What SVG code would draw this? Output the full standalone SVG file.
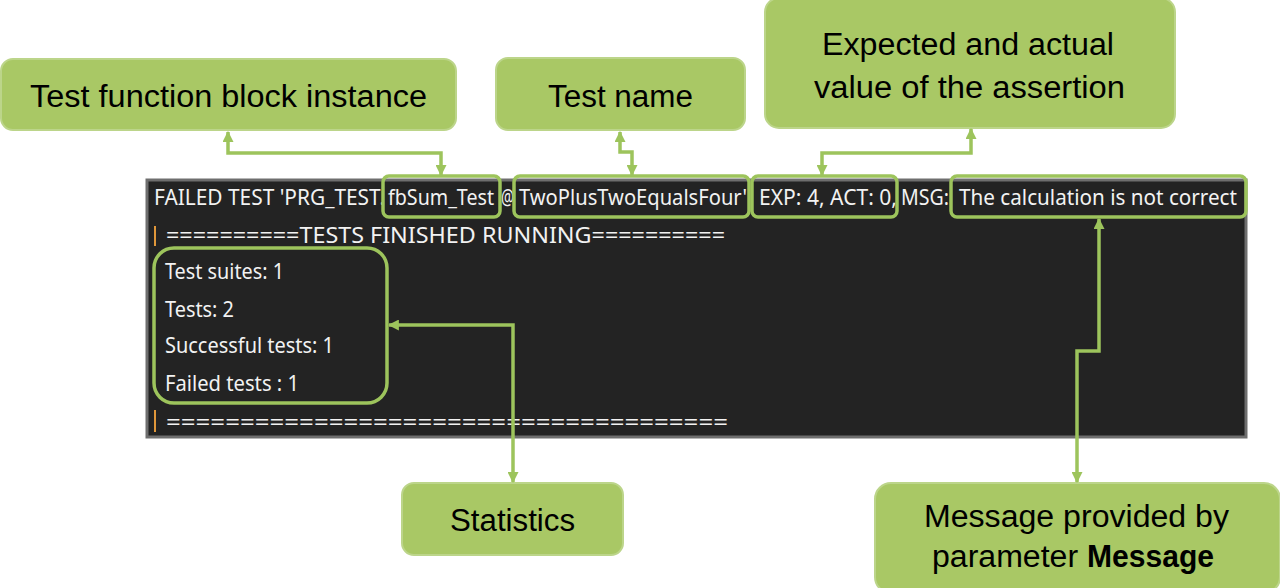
<svg xmlns="http://www.w3.org/2000/svg" width="1280" height="588" viewBox="0 0 1280 588">
<style>
.callout{fill:#a9c865;stroke:#bcd58a;stroke-width:2}
.ct{font-family:"Liberation Sans",Arial,sans-serif;font-size:31px;fill:#000;text-anchor:start}
.term{font-family:"Noto Sans","Liberation Sans",sans-serif;font-size:21px;fill:#f2f2f2}
.hl{fill:none;stroke:#9dc45c;stroke-width:3.5}
.conn{fill:none;stroke:#9dc45c;stroke-width:3.5;marker-start:url(#ah);marker-end:url(#ah)}
.bar{fill:#e0973a}
</style>
<defs>
<marker id="ah" viewBox="0 0 10 10" refX="9" refY="5" markerWidth="11" markerHeight="11" markerUnits="userSpaceOnUse" orient="auto-start-reverse">
<path d="M0,0 L10,5 L0,10 Z" fill="#9dc45c"/>
</marker>
</defs>
<rect width="1280" height="588" fill="#ffffff"/>

<g id="terminal">
<rect x="147" y="180" width="1099" height="257" fill="#232323" stroke="#6e6e6e" stroke-width="3"/>
<text class="term" x="154" y="205" textLength="231" lengthAdjust="spacingAndGlyphs">FAILED TEST 'PRG_TEST.</text>
<text class="term" x="388" y="205" textLength="106" lengthAdjust="spacingAndGlyphs">fbSum_Test</text>
<text class="term" x="501" y="205" textLength="13" lengthAdjust="spacingAndGlyphs">@</text>
<text class="term" x="519" y="205" textLength="228" lengthAdjust="spacingAndGlyphs">TwoPlusTwoEqualsFour'</text>
<text class="term" x="759" y="205" textLength="138" lengthAdjust="spacingAndGlyphs">EXP: 4, ACT: 0,</text>
<text class="term" x="901" y="205" textLength="48" lengthAdjust="spacingAndGlyphs">MSG:</text>
<text class="term" x="959" y="205" textLength="278" lengthAdjust="spacingAndGlyphs">The calculation is not correct</text>
<rect class="bar" x="154" y="226" width="2" height="20"/>
<text class="term" x="166" y="243" textLength="559" lengthAdjust="spacingAndGlyphs">==========TESTS FINISHED RUNNING==========</text>
<text class="term" x="165" y="279" textLength="119" lengthAdjust="spacingAndGlyphs">Test suites: 1</text>
<text class="term" x="165" y="317" textLength="69" lengthAdjust="spacingAndGlyphs">Tests: 2</text>
<text class="term" x="165" y="353" textLength="169" lengthAdjust="spacingAndGlyphs">Successful tests: 1</text>
<text class="term" x="165" y="391" textLength="134" lengthAdjust="spacingAndGlyphs">Failed tests : 1</text>
<rect class="bar" x="154" y="410" width="2" height="22"/>
<text class="term" x="166" y="430" textLength="562" lengthAdjust="spacingAndGlyphs">======================================</text>
</g>

<g id="highlights">
<rect class="hl" x="383" y="176" width="117" height="41" rx="6"/>
<rect class="hl" x="514" y="176" width="235" height="41" rx="6"/>
<rect class="hl" x="752" y="176" width="145" height="41" rx="6"/>
<rect class="hl" x="951" y="176" width="295" height="41" rx="6"/>
<rect class="hl" x="154" y="248" width="233" height="155" rx="20"/>
</g>

<g id="node-fb-instance">
<rect class="callout" x="1" y="59" width="455" height="71" rx="12"/>
<text class="ct" x="30" y="107" textLength="397" lengthAdjust="spacingAndGlyphs">Test function block instance</text>
</g>
<g id="node-test-name">
<rect class="callout" x="496" y="58" width="249" height="72" rx="12"/>
<text class="ct" x="548" y="107" textLength="145" lengthAdjust="spacingAndGlyphs">Test name</text>
</g>
<g id="node-expected">
<rect class="callout" x="765" y="-2" width="410" height="130" rx="14"/>
<text class="ct" x="822" y="55" textLength="292" lengthAdjust="spacingAndGlyphs">Expected and actual</text>
<text class="ct" x="814" y="98" textLength="311" lengthAdjust="spacingAndGlyphs">value of the assertion</text>
</g>
<g id="node-statistics">
<rect class="callout" x="402" y="483" width="221" height="72" rx="12"/>
<text class="ct" x="450" y="531" textLength="125" lengthAdjust="spacingAndGlyphs">Statistics</text>
</g>
<g id="node-message">
<rect class="callout" x="875" y="483" width="405" height="110" rx="16"/>
<text class="ct" x="924" y="527" textLength="305" lengthAdjust="spacingAndGlyphs">Message provided by</text>
<text class="ct" x="932" y="567"><tspan textLength="155" lengthAdjust="spacingAndGlyphs">parameter </tspan><tspan font-weight="bold" textLength="127" lengthAdjust="spacingAndGlyphs">Message</tspan></text>
</g>

<g id="connectors">
<path class="conn" d="M228,132 V153 H441 V175"/>
<path class="conn" d="M620,132 V152 H632 V175"/>
<path class="conn" d="M971,129 V153 H822 V175"/>
<path class="conn" d="M389,325 H513 V482"/>
<path class="conn" d="M1099,219 V351 H1077 V482"/>
</g>
</svg>
